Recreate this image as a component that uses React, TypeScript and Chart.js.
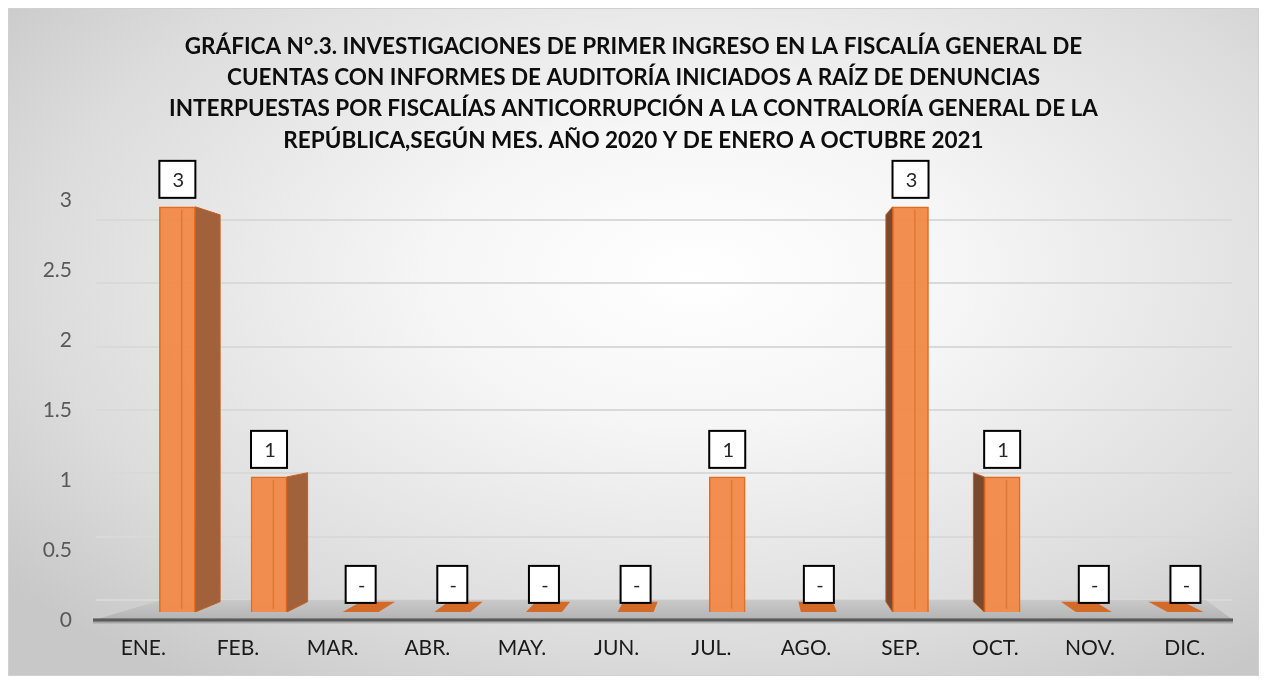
import React, { useEffect, useRef } from "react";
import { Chart, registerables } from "chart.js";

Chart.register(...registerables);

const TITLE_LINES = [
  "GRÁFICA N°.3. INVESTIGACIONES DE PRIMER INGRESO EN LA FISCALÍA GENERAL DE",
  "CUENTAS CON INFORMES DE AUDITORÍA INICIADOS A RAÍZ DE DENUNCIAS",
  "INTERPUESTAS POR FISCALÍAS ANTICORRUPCIÓN A LA CONTRALORÍA GENERAL DE LA",
  "REPÚBLICA,SEGÚN MES. AÑO 2020 Y DE ENERO A OCTUBRE 2021",
];
const MONTHS = ["ENE.", "FEB.", "MAR.", "ABR.", "MAY.", "JUN.", "JUL.", "AGO.", "SEP.", "OCT.", "NOV.", "DIC."];
const VALUES = [3, 1, 0, 0, 0, 0, 1, 0, 3, 1, 0, 0];
const Y_TICKS = [0, 0.5, 1, 1.5, 2, 2.5, 3];

const FONT = "Lato";

const threeD = {
  id: "threeD",
  beforeDatasetsDraw(chart: any) {
    const { ctx, chartArea, scales } = chart;
    const front = scales.y.getPixelForValue(0);
    const back = scales.yg.getPixelForValue(0);
    ctx.save();
    const g = ctx.createLinearGradient(0, back, 0, front);
    g.addColorStop(0, "#c9c9c9");
    g.addColorStop(1, "#b3b3b3");
    ctx.fillStyle = g;
    ctx.beginPath();
    ctx.moveTo(chartArea.left - 2, front);
    ctx.lineTo(chartArea.right + 1, front);
    ctx.lineTo(chartArea.right - 26, back);
    ctx.lineTo(chartArea.left + 65, back);
    ctx.closePath();
    ctx.fill();
    ctx.strokeStyle = "rgba(0,0,0,0.18)";
    ctx.lineWidth = 5;
    ctx.beginPath();
    ctx.moveTo(chartArea.left - 3, front + 1);
    ctx.lineTo(chartArea.right + 1, front + 1);
    ctx.stroke();
    ctx.strokeStyle = "#5a5a5a";
    ctx.lineWidth = 3;
    ctx.beginPath();
    ctx.moveTo(chartArea.left - 3, front);
    ctx.lineTo(chartArea.right + 1, front);
    ctx.stroke();
    ctx.restore();
  },
  afterDatasetsDraw(chart: any) {
    const { ctx, chartArea } = chart;
    const meta = chart.getDatasetMeta(0);
    const cx = (chartArea.left + chartArea.right) / 2 + 81;
    const cy = chartArea.top + 0.44 * (chartArea.bottom - chartArea.top);
    const k = 0.045;
    const bp = (x: number, y: number) => [x + k * (cx - x), y + k * (cy - y)];
    ctx.save();
    meta.data.forEach((el: any, i: number) => {
      const v = VALUES[i];
      const w = el.width;
      const l = el.x - w / 2;
      const r = el.x + w / 2;
      const top = el.y;
      const base = el.base;
      if (v > 0) {
        let e: number | null = null;
        let col = "";
        if (r < cx) { e = r; col = "#a0613b"; }
        else if (l > cx) { e = l; col = "#774a2d"; }
        if (e !== null) {
          const [bx1, by1] = bp(e, top);
          const [bx2, by2] = bp(e, base);
          ctx.fillStyle = col;
          ctx.strokeStyle = "#c9601f";
          ctx.lineWidth = 1;
          ctx.beginPath();
          ctx.moveTo(e, top);
          ctx.lineTo(bx1, by1);
          ctx.lineTo(bx2, by2);
          ctx.lineTo(e, base);
          ctx.closePath();
          ctx.fill();
          ctx.stroke();
        }
        ctx.strokeStyle = "rgba(214,98,28,0.5)";
        ctx.lineWidth = 1.5;
        const ix = l + w * 0.62;
        ctx.beginPath();
        ctx.moveTo(ix, top + 3);
        ctx.lineTo(ix, base - 3);
        ctx.stroke();
      } else {
        const [a1, b1] = bp(l, base);
        const [a2, b2] = bp(r, base);
        ctx.fillStyle = "#d46a28";
        ctx.beginPath();
        ctx.moveTo(l, base);
        ctx.lineTo(r, base);
        ctx.lineTo(a2, b2);
        ctx.lineTo(a1, b1);
        ctx.closePath();
        ctx.fill();
      }
      const bw = v > 0 ? 36 : 30;
      const bh = 37;
      const bottom = top - 9;
      ctx.fillStyle = "#ffffff";
      ctx.fillRect(el.x - bw / 2, bottom - bh, bw, bh);
      ctx.strokeStyle = "#000000";
      ctx.lineWidth = 2;
      ctx.strokeRect(el.x - bw / 2, bottom - bh, bw, bh);
      ctx.fillStyle = "#262626";
      ctx.font = `20px ${FONT}`;
      ctx.textAlign = "center";
      ctx.textBaseline = "middle";
      ctx.fillText(v > 0 ? String(v) : "-", el.x + 1, bottom - bh / 2 + 1);
    });
    ctx.restore();
  },
};

export default function App() {
  const ref = useRef<HTMLCanvasElement>(null);
  useEffect(() => {
    if (!ref.current) return;
    const chart = new Chart(ref.current, {
      type: "bar",
      data: {
        labels: MONTHS,
        datasets: [
          {
            data: VALUES.map((v, i) => ({ x: i, y: v })),
            xAxisID: "xb",
            yAxisID: "yb",
            backgroundColor: "rgba(241,138,74,0.97)",
            borderColor: "#e36c1f",
            borderWidth: 1.5,
            barThickness: 36,
          } as any,
        ],
      },
      options: {
        animation: false,
        responsive: true,
        maintainAspectRatio: false,
        layout: { padding: { left: 0, right: 0, top: 0, bottom: 15 } },
        plugins: {
          legend: { display: false },
          tooltip: { enabled: false },
          title: {
            display: true,
            text: TITLE_LINES,
            color: "#0d0d0d",
            font: { family: FONT, size: 22.5, weight: "bold", lineHeight: 1.39 },
            padding: { top: 22, bottom: 44 },
          },
        },
        scales: {
          x: {
            type: "category",
            labels: MONTHS,
            position: "bottom",
            offset: true,
            grid: { display: false, drawTicks: false },
            border: { display: false },
            ticks: { color: "#1a1a1a", font: { family: FONT, size: 21 }, padding: 16, maxRotation: 0, autoSkip: false },
            afterFit: (s: any) => { s.height = 40; },
          },
          xb: {
            type: "linear",
            display: false,
            offset: false,
            min: -0.888,
            max: 11.508,
          },
          y: {
            type: "linear",
            position: "left",
            min: 0,
            max: 3,
            grid: { display: false, drawTicks: false },
            border: { display: false },
            ticks: {
              stepSize: 0.5,
              color: "#595959",
              font: { family: FONT, size: 21 },
              padding: 24,
              callback: (v: any) => String(v),
            },
            afterFit: (s: any) => { s.width = 87; },
          },
          yb: {
            type: "linear",
            display: false,
            min: -0.06,
            max: 3.05,
          },
          yg: {
            type: "linear",
            position: "right",
            min: -0.158,
            max: 3.158,
            grid: { color: "#d9d9d9", lineWidth: 2, drawTicks: false },
            border: { display: false },
            ticks: { display: false },
            afterBuildTicks: (s: any) => { s.ticks = Y_TICKS.map((v) => ({ value: v })); },
            afterFit: (s: any) => { s.width = 26; },
          },
        },
      } as any,
      plugins: [threeD],
    });
    return () => chart.destroy();
  }, []);
  return (
    <div
      style={{
        width: 1249,
        height: 666,
        border: "1px solid #d0d0d0",
        background:
          "radial-gradient(ellipse 70% 75% at 55% 40%, #ffffff 0%, #f6f6f6 30%, #dcdcdc 75%, #c8c8c8 100%)",
        position: "relative",
      }}
    >
      <canvas ref={ref} />
    </div>
  );
}
